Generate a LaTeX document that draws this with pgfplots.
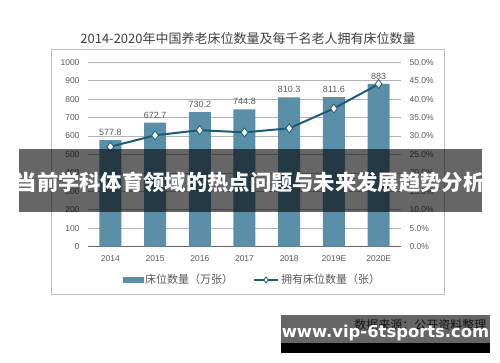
\documentclass[border=0pt]{standalone}
\usepackage{pgfplots}
\pgfplotsset{compat=1.18}
\usepackage{fontspec}
\setmainfont{Liberation Sans}
\newfontfamily\cjk{Noto Sans CJK SC}
\newfontfamily\wm{DejaVu Sans}
\definecolor{barc}{HTML}{5B8FA8}
\definecolor{linec}{HTML}{1D5C78}
\definecolor{gridc}{HTML}{B4B4B4}
\definecolor{txt}{HTML}{595959}
\pgfplotsset{mylineleg/.style={legend image code/.code={\draw[mark repeat=2,mark phase=2,mark size=3pt,##1] plot coordinates {(0pt,0pt) (12pt,0pt) (24pt,0pt)};}}}
\begin{document}
\begin{tikzpicture}
\path[fill=white] (0pt,0pt) rectangle (500pt,362pt);
\node[font=\cjk\fontsize{13}{14}\selectfont, text=black!75] at (248pt,323pt) {2014-2020年中国养老床位数量及每千名老人拥有床位数量};
\draw[gray!50, line width=1pt] (51.5pt,67.5pt) rectangle (444pt,312pt);

\begin{axis}[
  at={(88pt,115.3pt)}, anchor=south west,
  width=313pt, height=184.4pt, scale only axis,
  xmin=-0.5, xmax=6.5, ymin=0, ymax=1000,
  ytick={0,100,...,1000},
  xtick={0,...,6},
  xticklabels={2014,2015,2016,2017,2018,2019E,2020E},
  axis x line*=bottom, axis y line*=left,
  y axis line style={draw=none},
  x axis line style={draw=gray!80!black, line width=0.8pt, -},
  ymajorgrids, grid style={gridc, line width=0.8pt},
  major tick length=0pt,
  tick label style={font=\fontsize{8.5}{9}\selectfont, text=txt},
  yticklabel style={xshift=-5pt},
  xticklabel style={yshift=-5pt},
  /pgf/number format/assume math mode=true,
  /pgf/number format/1000 sep={},
  clip=false,
]
\addplot[ybar, bar width=22pt, fill=barc, draw=none,
  nodes near coords, nodes near coords style={font=\fontsize{9}{9}\selectfont, text=txt, yshift=1pt}]
  coordinates {(0,577.8) (1,672.7) (2,730.2) (3,744.8) (4,810.3) (5,811.6) (6,883)};
\end{axis}

\begin{axis}[
  at={(88pt,115.3pt)}, anchor=south west,
  width=313pt, height=184.4pt, scale only axis,
  xmin=-0.5, xmax=6.5, ymin=0, ymax=50,
  ytick={0,5,...,50},
  axis y line*=right, axis x line=none,
  y axis line style={draw=none},
  major tick length=0pt,
  yticklabel={\pgfmathprintnumber[fixed,fixed zerofill,precision=1]{\tick}\%},
  tick label style={font=\fontsize{8.5}{9}\selectfont, text=txt},
  yticklabel style={xshift=5pt},
  /pgf/number format/assume math mode=true,
  clip=false,
  legend style={at={(0.525,-0.18)}, anchor=center, draw=none, fill=none,
    legend columns=2, font=\cjk\fontsize{11}{11}\selectfont, text=txt,
    /tikz/every even column/.append style={column sep=18pt}},
]
\addlegendimage{legend image code/.code={\fill[barc] (0pt,-2.5pt) rectangle (20pt,2.5pt);}}
\addlegendentry{床位数量（万张）}
\addplot[linec, line width=2pt, mark=diamond*, mark size=4.5pt,
  mark options={fill=white, draw=linec, line width=0.8pt}, mylineleg]
  coordinates {(0,27.1) (1,30.2) (2,31.6) (3,31.0) (4,32.1) (5,37.5) (6,44.1)};
\addlegendentry{拥有床位数量（张）}
\end{axis}

\fill[black, opacity=0.6] (19pt,150pt) rectangle (482pt,213pt);
\node[text=white, font=\cjk\bfseries\fontsize{21.3}{22}\selectfont] at (250pt,180pt) {当前学科体育领域的热点问题与未来发展趋势分析};

\node[font=\cjk\fontsize{12}{12}\selectfont, text=black!80, anchor=east] at (490pt,37pt) {数据来源：公开资料整理};
\fill[black, opacity=0.6] (281pt,19pt) rectangle (490pt,47pt);
\fill[black] (281pt,9pt) rectangle (490pt,19pt);
\node[text=white, font=\wm\bfseries\fontsize{16.4}{17}\selectfont] at (385.5pt,29pt) {www.vip-6tsports.com};
\end{tikzpicture}
\end{document}
